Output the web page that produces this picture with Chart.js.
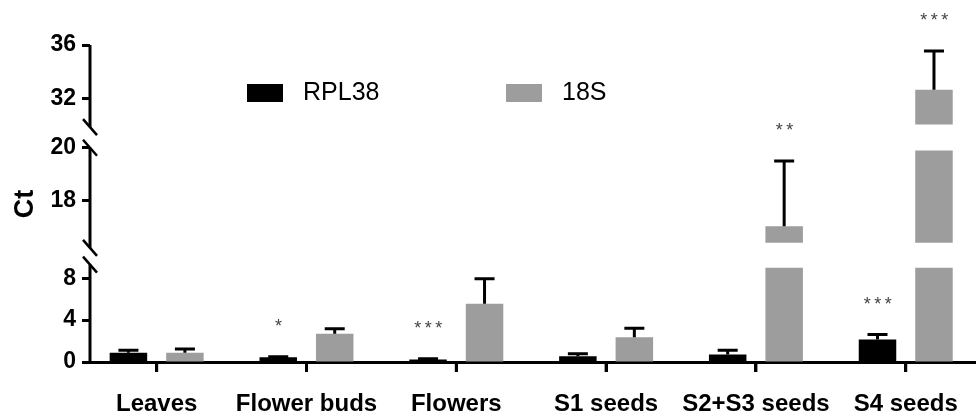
<!DOCTYPE html>
<html>
<head>
<meta charset="utf-8">
<script src="https://cdn.jsdelivr.net/npm/chart.js@4"></script>
<style>
html, body { margin: 0; padding: 0; background: #fff; overflow: hidden; }
#wrap { width: 976px; height: 417px; }
</style>
</head>
<body>
<div id="wrap"><canvas id="ctChart"></canvas></div>
<script>
const categories = ['Leaves', 'Flower buds', 'Flowers', 'S1 seeds', 'S2+S3 seeds', 'S4 seeds'];
const rpl38 = [0.88, 0.46, 0.24, 0.55, 0.71, 2.14];
const rpl38Err = [1.12, 0.5, 0.3, 0.78, 1.12, 2.62];
const s18 = [0.88, 2.7, 5.57, 2.36, 17.02, 32.67];
const s18Err = [1.25, 3.17, 7.95, 3.22, 19.5, 35.55];
const rpl38Stars = ['', '*', '***', '', '', '***'];
const s18Stars = ['', '', '', '', '**', '***'];

// broken y axis, segments from bottom to top
const segAxis = [[0, 10.14], [15.9, 20.4], [29.15, 36]];
const segBars = [[0, 9], [16.4, 19.9], [30.1, 36]];
const segLine = [[0, 9.3], [16.2, 20], [29.9, 36]];
const segTicks = [[0, 4, 8], [18, 20], [32, 36]];
const segWeight = [106.5, 119, 92.5];

const FONT = "'Liberation Sans', Arial, sans-serif";

const series = [
    { label: 'RPL38', values: rpl38, err: rpl38Err, stars: rpl38Stars, color: '#000000' },
    { label: '18S', values: s18, err: s18Err, stars: s18Stars, color: '#9d9d9d' }
];

function segData(vals, k) {
    const [lo, hi] = segBars[k];
    return vals.map((v, i) => ({ x: i, y: v > lo ? [lo, Math.min(v, hi)] : null }));
}

function segOf(v) {
    for (let k = segBars.length - 1; k >= 0; k--) {
        if (v > segBars[k][0]) return k;
    }
    return 0;
}

const datasets = [];
series.forEach(s => {
    segBars.forEach((seg, k) => {
        datasets.push({
            label: s.label,
            data: segData(s.values, k),
            backgroundColor: s.color,
            borderWidth: 0,
            yAxisID: 'y' + k,
            stack: s.label,
            categoryPercentage: 0.754,
            barPercentage: 0.664
        });
    });
});

function yScale(k) {
    return {
        type: 'linear',
        axis: 'y',
        position: 'left',
        stack: 'ct',
        stackWeight: segWeight[k],
        stacked: false,
        min: segAxis[k][0],
        max: segAxis[k][1],
        afterBuildTicks: s => { s.ticks = segTicks[k].map(v => ({ value: v })); },
        afterFit: s => { s.width = 90; },
        border: { display: false },
        grid: { drawOnChartArea: false, drawTicks: true, tickLength: 8, tickWidth: 3, tickColor: '#000' },
        ticks: { color: '#000', padding: 6, font: { family: FONT, size: 23, weight: 'bold' } }
    };
}

// axis line with breaks, x tick marks, error bars, stars, legend, axis title
const extras = {
    id: 'extras',
    afterDatasetsDraw(chart) {
        const ctx = chart.ctx;
        const area = chart.chartArea;
        ctx.save();
        ctx.strokeStyle = '#000';
        ctx.lineWidth = 3;

        // y axis segments
        const x0 = area.left;
        segLine.forEach((seg, k) => {
            const sc = chart.scales['y' + k];
            const yb = sc.getPixelForValue(seg[0]);
            const yt = sc.getPixelForValue(seg[1]);
            ctx.beginPath();
            ctx.moveTo(x0, yb);
            ctx.lineTo(x0, yt);
            ctx.stroke();
            ctx.lineWidth = 2.5;
            if (k < segLine.length - 1) {
                ctx.beginPath(); ctx.moveTo(x0 - 7, yt - 8); ctx.lineTo(x0 + 7, yt + 8); ctx.stroke();
            }
            if (k > 0) {
                ctx.beginPath(); ctx.moveTo(x0 - 7, yb - 8); ctx.lineTo(x0 + 7, yb + 8); ctx.stroke();
            }
            ctx.lineWidth = 3;
        });

        // x tick marks
        const xs = chart.scales.x;
        categories.forEach((c, i) => {
            const px = xs.getPixelForValue(i);
            ctx.beginPath();
            ctx.moveTo(px, area.bottom);
            ctx.lineTo(px, area.bottom + 10);
            ctx.stroke();
        });

        // error bars and significance stars
        series.forEach((s, j) => {
            s.values.forEach((v, i) => {
                const kv = segOf(v);
                const ke = segOf(s.err[i]);
                const el = chart.getDatasetMeta(j * 3 + kv).data[i];
                const x = el.x;
                const yv = chart.scales['y' + kv].getPixelForValue(v);
                const ye = chart.scales['y' + ke].getPixelForValue(s.err[i]);
                ctx.beginPath();
                ctx.moveTo(x, yv);
                ctx.lineTo(x, ye);
                ctx.moveTo(x - 10, ye);
                ctx.lineTo(x + 10, ye);
                ctx.stroke();
                if (s.stars[i]) {
                    ctx.fillStyle = '#444';
                    ctx.font = '18px ' + FONT;
                    ctx.letterSpacing = '3.5px';
                    ctx.textAlign = 'center';
                    ctx.textBaseline = 'middle';
                    ctx.fillText(s.stars[i], x + 2, ye - 30);
                }
            });
        });

        // legend
        ctx.letterSpacing = '0px';
        ctx.font = '25px ' + FONT;
        ctx.textAlign = 'left';
        ctx.textBaseline = 'middle';
        const legendX = [247, 506];
        series.forEach((s, j) => {
            ctx.fillStyle = s.color;
            ctx.fillRect(legendX[j], 84, 36, 18);
            ctx.fillStyle = '#000';
            ctx.fillText(s.label, legendX[j] + 56, 93);
        });

        // y title
        ctx.save();
        ctx.translate(26, 204);
        ctx.rotate(-Math.PI / 2);
        ctx.font = 'bold 27px ' + FONT;
        ctx.textAlign = 'center';
        ctx.fillText('Ct', 0, 0);
        ctx.restore();

        ctx.restore();
    }
};

new Chart(document.getElementById('ctChart'), {
    type: 'bar',
    data: { datasets: datasets },
    options: {
        responsive: true,
        maintainAspectRatio: false,
        animation: false,
        layout: { padding: { top: 45, right: 0, bottom: 0, left: 0 } },
        plugins: {
            legend: { display: false },
            tooltip: { enabled: false }
        },
        scales: {
            y0: yScale(0),
            y1: yScale(1),
            y2: yScale(2),
            x: {
                type: 'linear',
                position: 'bottom',
                offset: false,
                min: -0.445,
                max: 5.469,
                afterBuildTicks: s => { s.ticks = categories.map((c, i) => ({ value: i })); },
                afterFit: s => { s.height = 55; },
                border: { display: true, color: '#000', width: 3 },
                grid: { offset: false, drawOnChartArea: false, drawTicks: true, tickLength: 10, tickWidth: 3, tickColor: '#000' },
                ticks: {
                    callback: v => categories[v],
                    color: '#000',
                    padding: 18,
                    autoSkip: false,
                    maxRotation: 0,
                    font: { family: FONT, size: 24, weight: 'bold' }
                }
            }
        }
    },
    plugins: [extras]
});
</script>
</body>
</html>
